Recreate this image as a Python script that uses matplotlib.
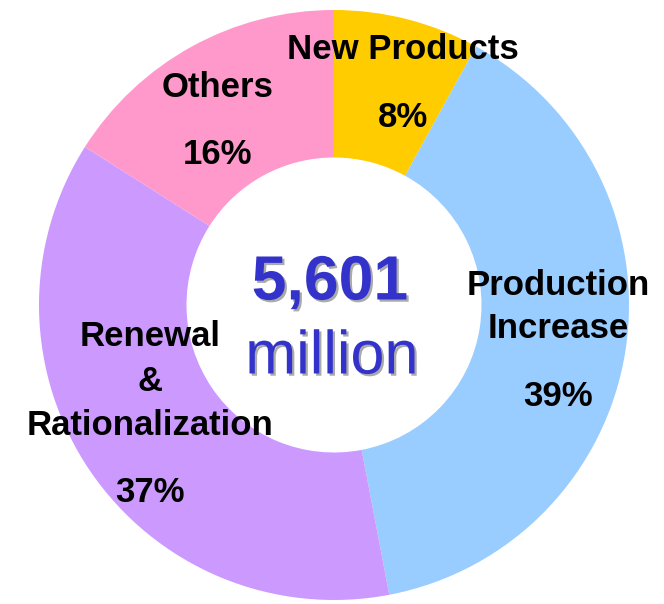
import matplotlib.pyplot as plt
import matplotlib.patheffects as pe

# Datos del gráfico (porcentajes en sentido horario desde arriba)
categorias = ["New Products", "Production\nIncrease", "Renewal\n&\nRationalization", "Others"]
porcentajes = [8, 39, 37, 16]
colores = ["#FFCC00", "#99CCFF", "#CC99FF", "#FF99CC"]
total = "5,601"
unidad = "million"

plt.rcParams['font.family'] = ['Liberation Sans', 'DejaVu Sans']

fig = plt.figure(figsize=(6.64, 6.04), dpi=100)
ax = fig.add_axes([0, 0, 1, 1])

# Radio del anillo en pixeles y centro
R = 295.0
cx, cy = 334.0, 305.0

ax.pie(porcentajes, colors=colores, startangle=90, counterclock=False,
       radius=1.0, wedgeprops=dict(width=0.5, linewidth=0))

ax.set_xlim(-cx / R, (664 - cx) / R)
ax.set_ylim(-(604 - cy) / R, cy / R)
ax.set_aspect('equal')
ax.axis('off')

# Convierte coordenadas de pixel (origen arriba a la izquierda) a datos
def px(x, y):
    return (x - cx) / R, (cy - y) / R

estilo = dict(fontsize=25, fontweight='bold', ha='center', va='center', color='black')

# Escribe cada renglón de una etiqueta por separado
def etiqueta(texto, x, y0, paso):
    for i, renglon in enumerate(texto.split("\n")):
        ax.text(*px(x, y0 + i * paso), renglon, **estilo)

# Etiquetas de cada segmento
etiqueta(categorias[0], 403, 50, 0)
ax.text(*px(403, 118), str(porcentajes[0]) + "%", **estilo)

etiqueta(categorias[1], 558, 286, 43)
ax.text(*px(558, 396), str(porcentajes[1]) + "%", **estilo)

etiqueta(categorias[2], 150, 337, 44.5)
ax.text(*px(150, 492), str(porcentajes[2]) + "%", **estilo)

etiqueta(categorias[3], 218, 88, 0)
ax.text(*px(218, 155), str(porcentajes[3]) + "%", **estilo)

# Texto central con sombra
sombra = [pe.withSimplePatchShadow(offset=(1.6, -1.6), shadow_rgbFace='#AAAAAA', alpha=1.0)]
ax.text(*px(330, 283), total, fontsize=45, fontweight='bold', color='#3333CC',
        ha='center', va='center', path_effects=sombra)
ax.text(*px(332, 358), unidad, fontsize=44, color='#3333CC',
        ha='center', va='center', path_effects=sombra)

fig.savefig("out.png", dpi=100)
